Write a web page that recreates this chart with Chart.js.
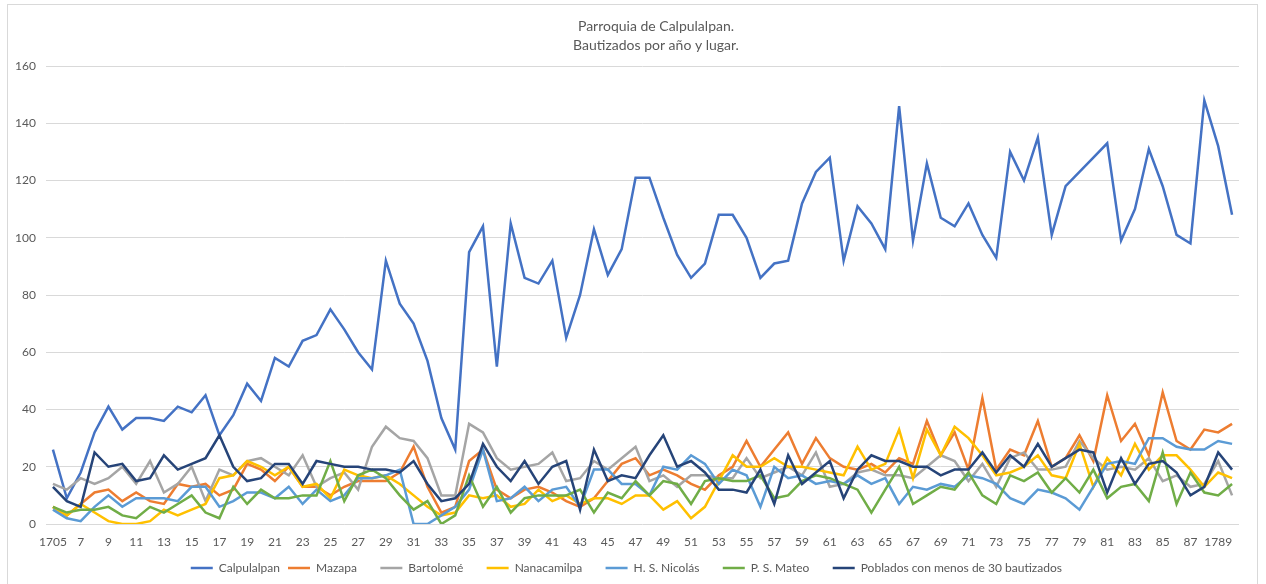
<!DOCTYPE html>
<html lang="es">
<head>
<meta charset="utf-8">
<title>Parroquia de Calpulalpan</title>
<script src="https://cdn.jsdelivr.net/npm/chart.js@4/dist/chart.umd.min.js"></script>
<style>
  html, body { margin: 0; padding: 0; background: #fff; overflow: hidden; }
  #marco { position: absolute; left: 7px; top: 4px; width: 1249px; height: 600px; border: 1px solid #d9d9d9; }
  #grafica { position: absolute; left: 0; top: 0; }
</style>
</head>
<body>
<div id="marco"></div>
<canvas id="grafica" width="1266" height="584"></canvas>
<script>
// Años (categorías del eje X)
const anios = [
    1705, 1706, 1707, 1708, 1709, 1710, 1711, 1712, 1713, 1714,
    1715, 1716, 1717, 1718, 1719, 1720, 1721, 1722, 1723, 1724,
    1725, 1726, 1727, 1728, 1729, 1730, 1731, 1732, 1733, 1734,
    1735, 1736, 1737, 1738, 1739, 1740, 1741, 1742, 1743, 1744,
    1745, 1746, 1747, 1748, 1749, 1750, 1751, 1752, 1753, 1754,
    1755, 1756, 1757, 1758, 1759, 1760, 1761, 1762, 1763, 1764,
    1765, 1766, 1767, 1768, 1769, 1770, 1771, 1772, 1773, 1774,
    1775, 1776, 1777, 1778, 1779, 1780, 1781, 1782, 1783, 1784,
    1785, 1786, 1787, 1788, 1789, 1790
];

const calpulalpan = [
    26, 9, 18, 32, 41, 33, 37, 37, 36, 41,
    39, 45, 31, 38, 49, 43, 58, 55, 64, 66,
    75, 68, 60, 54, 92, 77, 70, 57, 37, 26,
    95, 104, 55, 105, 86, 84, 92, 65, 80, 103,
    87, 96, 121, 121, 107, 94, 86, 91, 108, 108,
    100, 86, 91, 92, 112, 123, 128, 92, 111, 105,
    96, 146, 99, 126, 107, 104, 112, 101, 93, 130,
    120, 135, 101, 118, 123, 128, 133, 99, 110, 131,
    118, 101, 98, 148, 132, 108
];

const mazapa = [
    6, 3, 7, 11, 12, 8, 11, 8, 7, 14,
    13, 14, 10, 12, 21, 19, 15, 20, 13, 13,
    10, 13, 15, 15, 15, 18, 27, 13, 4, 6,
    22, 26, 12, 9, 12, 13, 11, 8, 6, 9,
    15, 21, 23, 17, 19, 17, 14, 12, 17, 20,
    29, 20, 26, 32, 21, 30, 23, 20, 19, 21,
    18, 23, 21, 36, 24, 32, 19, 44, 19, 26,
    24, 36, 20, 23, 31, 22, 45, 29, 35, 24,
    46, 29, 26, 33, 32, 35
];

const bartolome = [
    14, 12, 16, 14, 16, 20, 14, 22, 11, 14,
    20, 8, 19, 17, 22, 23, 20, 17, 24, 13,
    16, 18, 12, 27, 34, 30, 29, 23, 10, 10,
    35, 32, 23, 19, 20, 21, 25, 15, 16, 22,
    19, 23, 27, 15, 17, 13, 17, 17, 16, 16,
    23, 16, 18, 20, 17, 25, 13, 14, 18, 19,
    17, 17, 16, 20, 24, 22, 15, 21, 13, 23,
    25, 19, 19, 20, 29, 23, 19, 20, 19, 23,
    15, 17, 13, 14, 22, 10
];

const nanacamilpa = [
    6, 3, 7, 4, 1, 0, 0, 1, 5, 3,
    5, 7, 16, 17, 22, 20, 17, 20, 13, 14,
    9, 19, 17, 16, 17, 14, 10, 6, 3, 4,
    10, 9, 10, 6, 7, 12, 8, 10, 7, 9,
    9, 7, 10, 10, 5, 8, 2, 6, 15, 24,
    20, 20, 23, 20, 20, 19, 18, 17, 27, 19,
    21, 33, 16, 33, 24, 34, 30, 24, 17, 18,
    20, 24, 17, 16, 28, 13, 23, 17, 28, 19,
    24, 24, 19, 13, 18, 16
];

const hsNicolas = [
    5, 2, 1, 6, 10, 6, 9, 9, 9, 8,
    13, 13, 6, 8, 11, 11, 9, 13, 7, 12,
    8, 10, 16, 16, 17, 19, 0, 0, 3, 6,
    12, 26, 8, 9, 13, 8, 12, 13, 6, 19,
    19, 14, 14, 10, 20, 19, 24, 21, 14, 19,
    17, 6, 20, 16, 17, 14, 15, 14, 17, 14,
    16, 7, 13, 12, 14, 13, 17, 16, 14, 9,
    7, 12, 11, 9, 5, 13, 21, 22, 21, 30,
    30, 27, 26, 26, 29, 28
];

const psMateo = [
    6, 4, 5, 5, 6, 3, 2, 6, 4, 7,
    10, 4, 2, 13, 7, 12, 9, 9, 10, 10,
    22, 8, 17, 19, 16, 10, 5, 8, 0, 3,
    17, 6, 13, 4, 9, 10, 10, 10, 12, 4,
    11, 9, 15, 10, 15, 14, 7, 15, 16, 15,
    15, 17, 9, 10, 15, 17, 16, 14, 12, 4,
    12, 20, 7, 10, 13, 12, 18, 10, 7, 17,
    15, 18, 11, 16, 11, 19, 9, 13, 14, 8,
    25, 7, 18, 11, 10, 14
];

const poblados = [
    13, 8, 6, 25, 20, 21, 15, 16, 24, 19,
    21, 23, 31, 20, 15, 16, 21, 21, 14, 22,
    21, 20, 20, 19, 19, 18, 22, 14, 8, 9,
    14, 28, 20, 15, 22, 14, 20, 22, 5, 26,
    15, 17, 16, 24, 31, 20, 22, 18, 12, 12,
    11, 19, 7, 24, 14, 18, 22, 9, 19, 24,
    22, 22, 20, 20, 17, 19, 19, 25, 18, 24,
    20, 28, 20, 23, 26, 25, 11, 23, 14, 21,
    22, 18, 10, 13, 25, 19
];

const nombres = ['Calpulalpan', 'Mazapa', 'Bartolomé', 'Nanacamilpa', 'H. S. Nicolás', 'P. S. Mateo', 'Poblados con menos de 30 bautizados'];
const colores = ['#4472C4', '#ED7D31', '#A5A5A5', '#FFC000', '#5B9BD5', '#70AD47', '#264478'];
const series = [calpulalpan, mazapa, bartolome, nanacamilpa, hsNicolas, psMateo, poblados];
const titulo = ['Parroquia de Calpulalpan.', 'Bautizados por año y lugar.'];

const fuente = 'Lato, "Liberation Sans", sans-serif';
const gris = '#595959';

// etiqueta del eje X: año completo al inicio y en 1789, si no sólo las dos cifras
function etiquetaAnio(anio, i) {
    if (i % 2 !== 0) return '';
    if (i === 0 || anio === 1789) return String(anio);
    return String(anio % 100);
}

const tituloPlugin = {
    id: 'tituloExcel',
    afterDraw(chart) {
        const ctx = chart.ctx;
        ctx.save();
        ctx.font = '14px ' + fuente;
        ctx.fillStyle = gris;
        ctx.textAlign = 'center';
        ctx.textBaseline = 'middle';
        ctx.fillText(titulo[0], 656, 26);
        ctx.fillText(titulo[1], 656, 45);
        ctx.restore();
    }
};

document.addEventListener('DOMContentLoaded', function() {
    const ctx = document.getElementById('grafica').getContext('2d');
    new Chart(ctx, {
        type: 'line',
        data: {
            labels: anios,
            datasets: series.map((datos, i) => ({
                label: nombres[i],
                data: datos,
                borderColor: colores[i],
                backgroundColor: colores[i],
                borderWidth: 2.5,
                pointRadius: 0,
                tension: 0,
                fill: false,
                order: series.length - i // la última serie queda encima, como en Excel
            }))
        },
        options: {
            responsive: false,
            animation: false,
            layout: { padding: { left: 7, right: 5, top: 66, bottom: 0 } },
            scales: {
                x: {
                    type: 'category',
                    offset: true,
                    grid: { display: false, drawTicks: false },
                    border: { display: false },
                    ticks: {
                        autoSkip: false,
                        maxRotation: 0,
                        padding: 11,
                        color: gris,
                        font: { family: fuente, size: 12 },
                        callback: function(value, index) {
                            return etiquetaAnio(anios[index], index);
                        }
                    },
                    afterFit: function(scale) { scale.height = 30; }
                },
                y: {
                    min: 0,
                    max: 160,
                    ticks: {
                        stepSize: 20,
                        padding: 10,
                        color: gris,
                        font: { family: fuente, size: 12 }
                    },
                    grid: { color: '#d9d9d9', lineWidth: 1, drawTicks: false },
                    border: { display: false },
                    afterFit: function(scale) { scale.width = 39; }
                },
                // eje vacío a la derecha: sólo deja el margen derecho del área de trazado
                margen: {
                    position: 'right',
                    grid: { display: false, drawTicks: false },
                    border: { display: false },
                    ticks: { display: false },
                    afterFit: function(scale) { scale.width = 22; }
                }
            },
            plugins: {
                title: { display: false },
                tooltip: { enabled: false },
                legend: {
                    position: 'bottom',
                    labels: {
                        usePointStyle: true,
                        pointStyle: 'line',
                        pointStyleWidth: 22,
                        padding: 8,
                        color: gris,
                        font: { family: fuente, size: 12 },
                        sort: (a, b) => a.datasetIndex - b.datasetIndex,
                        generateLabels: function(chart) {
                            const items = Chart.defaults.plugins.legend.labels.generateLabels(chart);
                            // separación extra entre entradas, como en la leyenda de Excel
                            items.forEach((item, i) => {
                                if (i < items.length - 1) item.text += '     ';
                            });
                            return items;
                        }
                    }
                }
            }
        },
        plugins: [tituloPlugin]
    });
});
</script>
</body>
</html>
